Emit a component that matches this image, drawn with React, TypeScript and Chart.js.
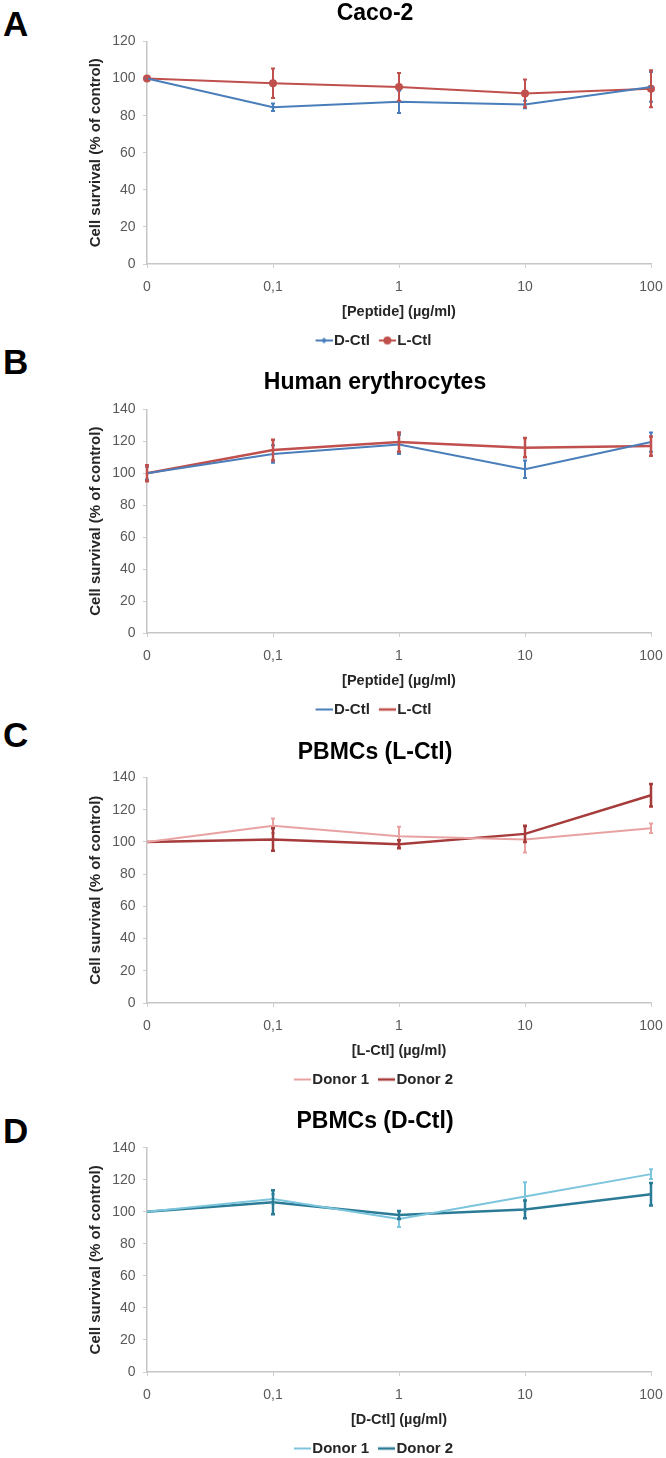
import React, { useEffect, useRef } from 'react';
import { Chart, registerables } from 'chart.js';

Chart.register(...registerables);
Chart.defaults.font.family = "'Liberation Sans', Arial, sans-serif";

// ---------- data ----------
const X_LABELS = ['0', '0,1', '1', '10', '100'];

// Panel A – Caco-2
const CACO_D = [100, 84.5, 87.5, 86, 95.5];
const CACO_D_ERR = [0, 2, 6, 2, 8];
const CACO_L = [100, 97.5, 95.5, 92, 94.5];
const CACO_L_ERR = [1, 8, 7.5, 7.5, 10];

// Panel B – Human erythrocytes
const ERY_D = [100, 112, 118, 102.5, 119.5];
const ERY_D_ERR = [4, 5.5, 6, 5.5, 6];
const ERY_L = [100, 114.5, 119.5, 116, 117];
const ERY_L_ERR = [5, 6.5, 6, 6, 6];

// Panel C – PBMCs (L-Ctl)
const PBMC_L_DONOR1 = [100, 110, 103.5, 101.5, 108.5];
const PBMC_L_DONOR1_ERR = [0, 4.5, 6, 8, 3];
const PBMC_L_DONOR2 = [100, 101.5, 98.5, 105, 129];
const PBMC_L_DONOR2_ERR = [0, 7, 2.5, 5, 7];

// Panel D – PBMCs (D-Ctl)
const PBMC_D_DONOR1 = [100, 108, 95.5, 109.5, 123.5];
const PBMC_D_DONOR1_ERR = [0, 3, 5, 9, 3];
const PBMC_D_DONOR2 = [100, 106, 98, 101.5, 111];
const PBMC_D_DONOR2_ERR = [0, 7.5, 2.5, 5.5, 7];

const Y_TITLE = 'Cell survival (% of control)';

// ---------- styling ----------
const BLUE = '#4a7ebb';
const RED = '#c0504d';
const PINK = '#e8a2a2';
const DARKRED = '#a63b3b';
const CYAN = '#7cc5dc';
const TEAL = '#2b7b96';

type Series = {
  label: string;
  data: number[];
  err: number[];
  color: string;
  width: number;
  radius: number;
  style: string;
};

type Panel = {
  letter: string;
  letterTop: number;
  title: string;
  xTitle: string;
  yMax: number;
  top: number;
  chartTop: number;
  series: Series[];
};

const PANELS: Panel[] = [
  {
    letter: 'A', letterTop: 5.5, title: 'Caco-2', xTitle: '[Peptide] (µg/ml)', yMax: 120, top: 0, chartTop: 41.5,
    series: [
      { label: 'D-Ctl', data: CACO_D, err: CACO_D_ERR, color: BLUE, width: 2, radius: 2.5, style: 'rectRot' },
      { label: 'L-Ctl', data: CACO_L, err: CACO_L_ERR, color: RED, width: 2, radius: 4, style: 'circle' },
    ],
  },
  {
    letter: 'B', letterTop: 344, title: 'Human erythrocytes', xTitle: '[Peptide] (µg/ml)', yMax: 140, top: 369, chartTop: 40.3,
    series: [
      { label: 'D-Ctl', data: ERY_D, err: ERY_D_ERR, color: BLUE, width: 2, radius: 0, style: 'circle' },
      { label: 'L-Ctl', data: ERY_L, err: ERY_L_ERR, color: RED, width: 2.5, radius: 0, style: 'circle' },
    ],
  },
  {
    letter: 'C', letterTop: 717, title: 'PBMCs (L-Ctl)', xTitle: '[L-Ctl] (µg/ml)', yMax: 140, top: 739, chartTop: 38.5,
    series: [
      { label: 'Donor 1', data: PBMC_L_DONOR1, err: PBMC_L_DONOR1_ERR, color: PINK, width: 2, radius: 0, style: 'circle' },
      { label: 'Donor 2', data: PBMC_L_DONOR2, err: PBMC_L_DONOR2_ERR, color: DARKRED, width: 2.5, radius: 0, style: 'circle' },
    ],
  },
  {
    letter: 'D', letterTop: 1113, title: 'PBMCs (D-Ctl)', xTitle: '[D-Ctl] (µg/ml)', yMax: 140, top: 1108, chartTop: 39.7,
    series: [
      { label: 'Donor 1', data: PBMC_D_DONOR1, err: PBMC_D_DONOR1_ERR, color: CYAN, width: 2, radius: 0, style: 'circle' },
      { label: 'Donor 2', data: PBMC_D_DONOR2, err: PBMC_D_DONOR2_ERR, color: TEAL, width: 2.5, radius: 0, style: 'circle' },
    ],
  },
];

const CANVAS_LEFT = 70;
const CANVAS_W = 624;
const CANVAS_H = 358;
const LEFT_PAD = 29;
const RIGHT_PAD = 43;
const Y_AXIS_W = 48;
const X_AXIS_H = 57;
const TITLE_SIZE = 23;
const FONT = "'Liberation Sans', Arial, sans-serif";

const errorBarPlugin = {
  id: 'errorBars',
  afterDatasetsDraw(chart: any) {
    const ctx = chart.ctx;
    const y = chart.scales.y;
    chart.data.datasets.forEach((ds: any, i: number) => {
      const errs: number[] | undefined = ds.errors;
      if (!errs) return;
      const meta = chart.getDatasetMeta(i);
      ctx.save();
      ctx.strokeStyle = ds.borderColor;
      ctx.lineWidth = ds.borderWidth;
      meta.data.forEach((pt: any, j: number) => {
        const e = errs[j];
        if (!e) return;
        const v = ds.data[j];
        const yt = y.getPixelForValue(v + e);
        const yb = y.getPixelForValue(v - e);
        ctx.beginPath();
        ctx.moveTo(pt.x, yt);
        ctx.lineTo(pt.x, yb);
        ctx.moveTo(pt.x - 2, yt);
        ctx.lineTo(pt.x + 2, yt);
        ctx.moveTo(pt.x - 2, yb);
        ctx.lineTo(pt.x + 2, yb);
        ctx.stroke();
      });
      ctx.restore();
    });
  },
};

function legendIcon(s: Series): HTMLCanvasElement {
  const c = document.createElement('canvas');
  c.width = 20;
  c.height = 12;
  const g = c.getContext('2d')!;
  g.strokeStyle = s.color;
  g.fillStyle = s.color;
  g.lineWidth = s.width;
  g.beginPath();
  g.moveTo(3, 6);
  g.lineTo(20, 6);
  g.stroke();
  if (s.radius > 0) {
    g.beginPath();
    if (s.style === 'rectRot') {
      const r = s.radius + 0.5;
      g.moveTo(11.5, 6 - r);
      g.lineTo(11.5 + r, 6);
      g.lineTo(11.5, 6 + r);
      g.lineTo(11.5 - r, 6);
      g.closePath();
    } else {
      g.arc(11.5, 6, s.radius, 0, Math.PI * 2);
    }
    g.fill();
  }
  return c;
}

function PanelChart({ p }: { p: Panel }) {
  const ref = useRef<HTMLCanvasElement | null>(null);

  useEffect(() => {
    if (!ref.current) return;
    const icons = p.series.map(legendIcon);
    const titleLine = TITLE_SIZE * 1.2;
    const titlePadTop = 14 - titleLine / 2;
    const chart = new Chart(ref.current, {
      type: 'line',
      data: {
        labels: X_LABELS,
        datasets: p.series.map((s) => ({
          label: s.label,
          data: s.data,
          errors: s.err,
          borderColor: s.color,
          backgroundColor: s.color,
          borderWidth: s.width,
          pointRadius: s.radius,
          pointHoverRadius: s.radius,
          pointStyle: s.style,
          pointBorderWidth: 0,
          tension: 0,
          fill: false,
          clip: false,
        })) as any,
      },
      options: {
        animation: false,
        responsive: false,
        events: [],
        layout: { padding: { left: LEFT_PAD, right: RIGHT_PAD, top: 0, bottom: 0 } },
        plugins: {
          title: {
            display: true,
            text: p.title,
            color: '#000',
            font: { size: TITLE_SIZE, weight: 'bold', family: FONT, lineHeight: 1.2 },
            padding: { top: titlePadTop, bottom: p.chartTop - titlePadTop - titleLine },
          },
          legend: {
            display: true,
            position: 'bottom',
            labels: {
              usePointStyle: true,
              pointStyleWidth: 8,
              padding: 12,
              color: '#262626',
              font: { size: 15, weight: 'bold', family: FONT },
              generateLabels: (ch: any) =>
                ch.data.datasets.map((ds: any, i: number) => ({
                  text: ds.label,
                  pointStyle: icons[i],
                  fillStyle: ds.borderColor,
                  strokeStyle: ds.borderColor,
                  lineWidth: 0,
                  hidden: false,
                  datasetIndex: i,
                  fontColor: '#262626',
                })),
            },
          },
          tooltip: { enabled: false },
        },
        scales: {
          x: {
            type: 'category',
            offset: false,
            afterFit: (s: any) => {
              s.height = X_AXIS_H;
            },
            grid: { drawOnChartArea: false, drawTicks: true, tickLength: 4, color: '#cfcfcf' },
            border: { display: true, color: '#c6c6c6', width: 1.5 },
            ticks: { color: '#595959', font: { size: 14, family: FONT }, padding: 10.6, maxRotation: 0, autoSkip: false },
            title: {
              display: true,
              text: p.xTitle,
              color: '#262626',
              font: { size: 14.5, weight: 'bold', family: FONT, lineHeight: 1.2 },
              padding: { top: 0, bottom: 0.3 },
            },
          },
          y: {
            min: 0,
            max: p.yMax,
            afterFit: (s: any) => {
              s.width = Y_AXIS_W;
            },
            grid: { drawOnChartArea: false, drawTicks: true, tickLength: 4, color: '#cfcfcf' },
            border: { display: true, color: '#c6c6c6', width: 1.5 },
            ticks: { stepSize: 20, color: '#595959', font: { size: 14, family: FONT }, padding: 7.5 },
            title: {
              display: true,
              text: Y_TITLE,
              color: '#262626',
              font: { size: 15, weight: 'bold', family: FONT, lineHeight: 1.2 },
              padding: { top: -12, bottom: 0 },
            },
          },
        },
      } as any,
      plugins: [errorBarPlugin],
    });
    return () => chart.destroy();
  }, [p]);

  return (
    <>
      <div
        style={{
          position: 'absolute',
          left: 3,
          top: p.letterTop,
          fontFamily: FONT,
          fontWeight: 'bold',
          fontSize: 35,
          lineHeight: '35px',
          color: '#000',
        }}
      >
        {p.letter}
      </div>
      <div style={{ position: 'absolute', left: CANVAS_LEFT, top: p.top, width: CANVAS_W, height: CANVAS_H }}>
        <canvas ref={ref} width={CANVAS_W} height={CANVAS_H} style={{ display: 'block', width: CANVAS_W, height: CANVAS_H }} />
      </div>
    </>
  );
}

export default function App() {
  return (
    <div
      style={{
        position: 'absolute',
        left: 0,
        top: 0,
        width: 666,
        height: 1458,
        overflow: 'hidden',
        background: '#fff',
      }}
    >
      {PANELS.map((p) => (
        <PanelChart key={p.letter} p={p} />
      ))}
    </div>
  );
}
